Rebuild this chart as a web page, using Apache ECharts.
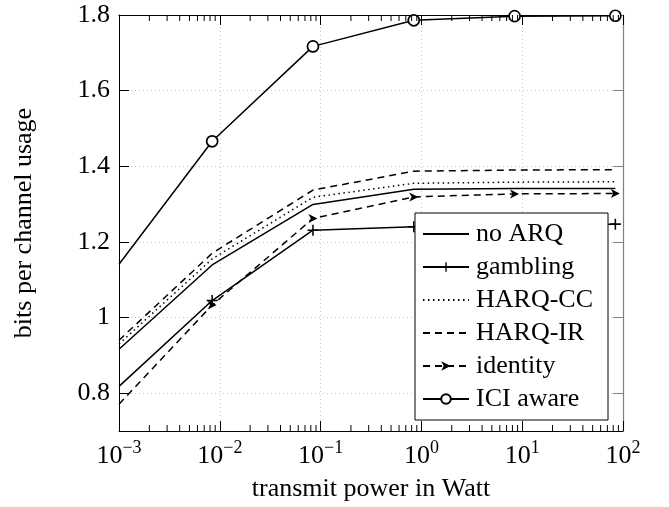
<!DOCTYPE html>
<html>
<head>
<meta charset="utf-8">
<script src="https://cdn.jsdelivr.net/npm/echarts@6/dist/echarts.min.js"></script>
<style>html,body{margin:0;padding:0;background:#fff}#c{width:669px;height:507px}</style>
</head>
<body>
<div id="c"></div>
<script>
// ---- data ----
var xValues   = [0.001, 0.0084, 0.084, 0.84, 8.4, 84];
var noARQ     = [0.916, 1.139, 1.299, 1.339, 1.341, 1.341];
var gambling  = [0.818, 1.045, 1.231, 1.240, 1.244, 1.247];
var harqCC    = [0.930, 1.155, 1.318, 1.355, 1.358, 1.359];
var harqIR    = [0.940, 1.170, 1.337, 1.387, 1.390, 1.391];
var identity  = [0.771, 1.033, 1.262, 1.319, 1.327, 1.328];
var iciAware  = [1.141, 1.466, 1.717, 1.786, 1.797, 1.798];
var yTicks    = [0.8, 1, 1.2, 1.4, 1.6, 1.8];
var seriesNames = ['no ARQ', 'gambling', 'HARQ-CC', 'HARQ-IR', 'identity', 'ICI aware'];
var xMin = 0.001, xMax = 100, yMin = 0.7, yMax = 1.8;

var FONT = 'Liberation Serif';
function pts(arr, hideFirst) {
  return arr.map(function (v, i) {
    var d = { value: [xValues[i], v] };
    if (hideFirst && i === 0) d.symbol = 'none';
    return d;
  });
}
// minor tick positions on the log axis (2..9 x 10^k)
var minorTicks = [];
for (var e = -3; e < 2; e++) {
  for (var m = 2; m <= 9; m++) minorTicks.push(m * Math.pow(10, e));
}

var PLUS = 'path://M4.3,0H5.7V10H4.3Z M0,4.3H10V5.7H0Z';
var ARROW = 'path://M0,0L10,5L0,10L2.6,5Z';
var LW = 1.5;
var noMarker = { 'no ARQ': 1, 'HARQ-CC': 1, 'HARQ-IR': 1 };

var chart = echarts.init(document.getElementById('c'), null, { renderer: 'canvas' });
chart.setOption({
  animation: false,
  backgroundColor: '#fff',
  textStyle: { fontFamily: FONT, color: '#000' },
  grid: { left: 119, top: 15, width: 504, height: 418 },
  xAxis: [{
    type: 'log', logBase: 10, min: xMin, max: xMax,
    name: 'transmit power in Watt', nameLocation: 'middle', nameGap: 45,
    nameTextStyle: { fontFamily: FONT, fontSize: 26, color: '#000' },
    axisLine: { lineStyle: { color: '#000', width: 1 } },
    axisTick: { inside: true, length: 10, lineStyle: { color: '#000' } },
    minorTick: { show: false },
    splitLine: { show: true, lineStyle: { color: '#c8c8c8', type: [1, 3], width: 1 } },
    axisLabel: {
      margin: 8,
      fontFamily: FONT, fontSize: 26, color: '#000',
      formatter: function (v) {
        var ex = Math.round(Math.log10(v));
        return '{b|10}{s|' + (ex < 0 ? '\u2212' + (-ex) : ex) + '}';
      },
      rich: {
        b: { fontFamily: FONT, fontSize: 26, color: '#000' },
        s: { fontFamily: FONT, fontSize: 18, color: '#000', padding: [0, 0, 16, 0] }
      }
    }
  }, {
    type: 'log', logBase: 10, min: xMin, max: xMax, position: 'top',
    axisLine: { show: true, lineStyle: { color: '#000', width: 1 } },
    axisTick: { show: true, inside: true, length: 10, lineStyle: { color: '#000' } },
    axisLabel: { show: false }, splitLine: { show: false }
  }],
  yAxis: [{
    type: 'value', min: yMin, max: yMax,
    name: 'bits per channel usage', nameLocation: 'middle', nameGap: 82,
    nameTextStyle: { fontFamily: FONT, fontSize: 26, color: '#000' },
    axisLine: { show: true, lineStyle: { color: '#000', width: 1 } },
    axisTick: { show: true, inside: true, length: 10, customValues: yTicks, lineStyle: { color: '#000' } },
    splitLine: { show: true, lineStyle: { color: '#c8c8c8', type: [1, 3], width: 1 } },
    axisLabel: { customValues: yTicks, margin: 9, fontFamily: FONT, fontSize: 26, color: '#000' }
  }, {
    type: 'value', min: yMin, max: yMax, position: 'right',
    axisLine: { show: true, lineStyle: { color: '#808080', width: 1.2 } },
    axisTick: { show: true, inside: true, length: 10, customValues: yTicks, lineStyle: { color: '#808080' } },
    axisLabel: { show: false }, splitLine: { show: false }
  }],
  legend: {
    left: 415, top: 213, orient: 'vertical',
    data: seriesNames.map(function (n) {
      return noMarker[n] ? { name: n, itemStyle: { opacity: 0 } } : { name: n };
    }),
    backgroundColor: '#fff', borderColor: '#000', borderWidth: 1, borderRadius: 0,
    padding: [8, 15, 8, 7], itemGap: 7, itemWidth: 46, itemHeight: 12,
    textStyle: { fontFamily: FONT, fontSize: 26, color: '#000', padding: [0, 0, 0, 2] }
  },
  series: [
    { name: seriesNames[0], type: 'line', data: pts(noARQ), symbol: 'none',
      lineStyle: { color: '#000', width: LW }, itemStyle: { color: '#000' }, z: 3 },
    { name: seriesNames[1], type: 'line', data: pts(gambling, true), symbol: PLUS, symbolSize: 11,
      showAllSymbol: true,
      lineStyle: { color: '#000', width: LW }, itemStyle: { color: '#000' }, z: 3 },
    { name: seriesNames[2], type: 'line', data: pts(harqCC), symbol: 'none',
      lineStyle: { color: '#000', width: LW, type: [1.5, 3.5] }, itemStyle: { color: '#000' }, z: 3 },
    { name: seriesNames[3], type: 'line', data: pts(harqIR), symbol: 'none',
      lineStyle: { color: '#000', width: LW, type: [7, 5] }, itemStyle: { color: '#000' }, z: 3 },
    { name: seriesNames[4], type: 'line', data: pts(identity, true), symbol: ARROW, symbolSize: 9,
      showAllSymbol: true,
      lineStyle: { color: '#000', width: LW, type: [7, 5] }, itemStyle: { color: '#000' }, z: 3 },
    { name: seriesNames[5], type: 'line', data: pts(iciAware, true), symbol: 'circle', symbolSize: 11,
      showAllSymbol: true,
      lineStyle: { color: '#000', width: LW },
      itemStyle: { color: '#fff', borderColor: '#000', borderWidth: 1.7 }, z: 3 },
    { name: 'minorTicks', type: 'custom', silent: true, z: 4,
      data: minorTicks.map(function (v) { return [v]; }),
      renderItem: function (params, api) {
        var v = api.value(0);
        var b = api.coord([v, yMin]);
        var t = api.coord([v, yMax]);
        var st = { stroke: '#000', lineWidth: 1 };
        return { type: 'group', children: [
          { type: 'line', shape: { x1: b[0], y1: b[1], x2: b[0], y2: b[1] - 6 }, style: st },
          { type: 'line', shape: { x1: t[0], y1: t[1], x2: t[0], y2: t[1] + 6 }, style: st }
        ] };
      },
      encode: { x: 0 }
    }
  ]
});
</script>
</body>
</html>
